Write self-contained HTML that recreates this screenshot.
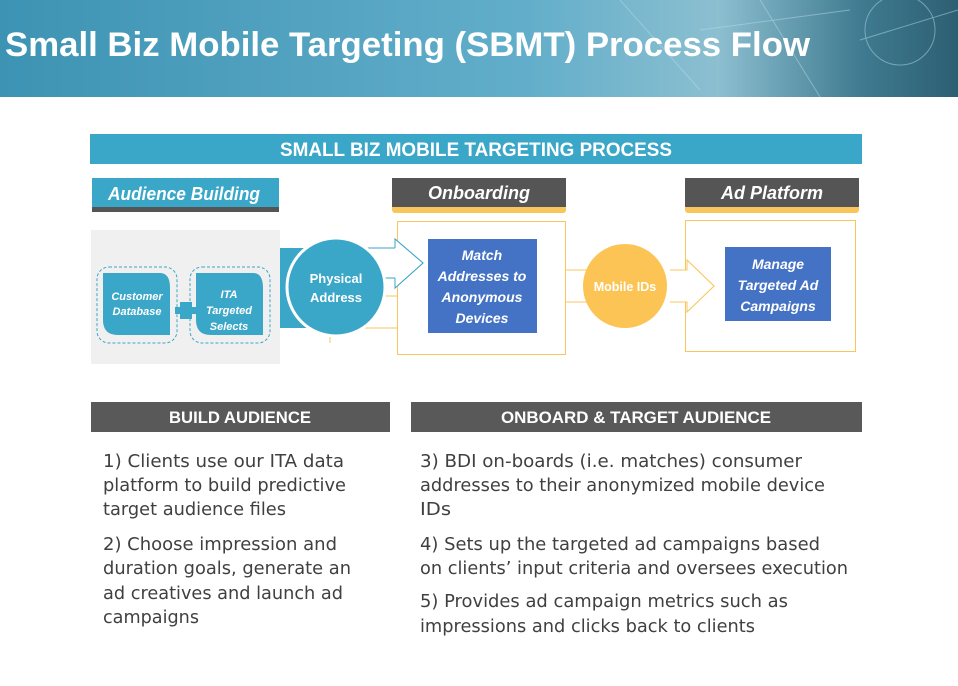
<!DOCTYPE html>
<html><head><meta charset="utf-8"><style>
html,body{margin:0;padding:0;background:#fff;}
svg{display:block;}
text{font-family:"Liberation Sans",sans-serif;}
.b{font-family:"DejaVu Sans","Liberation Sans",sans-serif;font-size:18px;fill:#404040;}
.it{font-weight:bold;font-style:italic;fill:#fff;}
</style></head><body>
<svg width="958" height="686" viewBox="0 0 958 686" xmlns="http://www.w3.org/2000/svg">
<defs>
<linearGradient id="hg" x1="0" x2="1" y1="0" y2="0">
<stop offset="0" stop-color="#3d93b3"/>
<stop offset="0.55" stop-color="#62aeca"/>
<stop offset="0.75" stop-color="#8cbfd0"/>
<stop offset="0.9" stop-color="#3f7a90"/>
<stop offset="1" stop-color="#2d5f72"/>
</linearGradient>
</defs>
<rect x="0" y="0" width="958" height="97" fill="url(#hg)"/>
<g stroke="#b8dbe6" stroke-width="1" opacity="0.5" fill="none">
<line x1="620" y1="0" x2="700" y2="90"/><line x1="700" y1="30" x2="850" y2="10"/>
<line x1="760" y1="0" x2="820" y2="97"/><line x1="860" y1="40" x2="958" y2="10"/>
<circle cx="900" cy="30" r="35"/>
</g>
<text x="5" y="56" font-size="34" font-weight="bold" fill="#fff" textLength="805" lengthAdjust="spacingAndGlyphs">Small Biz Mobile Targeting (SBMT) Process Flow</text>

<rect x="90" y="134" width="772" height="30" fill="#3aa6c8"/>
<text x="476" y="156" font-size="19" font-weight="bold" fill="#fff" text-anchor="middle" textLength="392" lengthAdjust="spacingAndGlyphs">SMALL BIZ MOBILE TARGETING PROCESS</text>

<!-- tabs -->
<rect x="92" y="205" width="187" height="7" fill="#555"/>
<rect x="92" y="178" width="187" height="29" fill="#3aa6c8"/>
<text x="184" y="200" font-size="18" class="it" text-anchor="middle" textLength="152" lengthAdjust="spacingAndGlyphs">Audience Building</text>
<rect x="392" y="205" width="174" height="8" rx="3" fill="#f8c65a"/>
<rect x="392" y="178" width="174" height="29" fill="#555"/>
<text x="479" y="199" font-size="18" class="it" text-anchor="middle" textLength="102" lengthAdjust="spacingAndGlyphs">Onboarding</text>
<rect x="685" y="205" width="174" height="8" rx="3" fill="#f8c65a"/>
<rect x="685" y="178" width="174" height="29" fill="#555"/>
<text x="772" y="199" font-size="18" class="it" text-anchor="middle" textLength="102" lengthAdjust="spacingAndGlyphs">Ad Platform</text>

<!-- gray panel -->
<rect x="91" y="230" width="189" height="134" fill="#f0f0f0"/>
<rect x="97" y="267" width="80" height="76" rx="12" fill="none" stroke="#3aa6c8" stroke-dasharray="3,2"/>
<path d="M103 273 H160 Q170 273 170 288 V335 H118 Q103 335 103 320 Z" fill="#3aa6c8"/>
<rect x="190" y="267" width="80" height="76" rx="12" fill="none" stroke="#3aa6c8" stroke-dasharray="3,2"/>
<path d="M196 273 H253 Q263 273 263 288 V335 H211 Q196 335 196 320 Z" fill="#3aa6c8"/>
<text x="137" y="300" font-size="11" class="it" text-anchor="middle">Customer</text>
<text x="137" y="315" font-size="11" class="it" text-anchor="middle">Database</text>
<text x="229" y="298" font-size="11" class="it" text-anchor="middle">ITA</text>
<text x="229" y="314" font-size="11" class="it" text-anchor="middle">Targeted</text>
<text x="229" y="330" font-size="11" class="it" text-anchor="middle">Selects</text>
<rect x="180" y="302" width="12" height="17" fill="#3aa6c8"/>
<rect x="175" y="307" width="22" height="7" fill="#3aa6c8"/>

<!-- physical address -->
<rect x="280" y="248" width="50" height="80" fill="#3aa6c8"/>
<path d="M330 248 H395 V239 L423 263 L395 288 V278 H330" fill="#fff" stroke="#3aa6c8" stroke-width="1"/>
<g stroke="#f8c65a" stroke-width="1"><line x1="350" y1="296" x2="398" y2="296"/><line x1="350" y1="328" x2="398" y2="328"/><line x1="330" y1="336" x2="330" y2="343"/></g>
<circle cx="336" cy="287" r="49" fill="#3aa6c8" stroke="#fff" stroke-width="3"/>
<text x="336" y="283" font-size="13" font-weight="bold" fill="#fff" text-anchor="middle">Physical</text>
<text x="336" y="302" font-size="13" font-weight="bold" fill="#fff" text-anchor="middle">Address</text>

<!-- onboarding box -->
<rect x="397.5" y="221.5" width="168" height="133" fill="none" stroke="#f8c65a"/>
<path d="M395 248 V239 L423 263 L395 288 V278" fill="#fff" stroke="#3aa6c8"/>
<rect x="428" y="239" width="109" height="94" fill="#4472c4"/>
<text x="482" y="260" font-size="14" class="it" text-anchor="middle">Match</text>
<text x="482" y="281" font-size="14" class="it" text-anchor="middle">Addresses to</text>
<text x="482" y="302" font-size="14" class="it" text-anchor="middle">Anonymous</text>
<text x="482" y="323" font-size="14" class="it" text-anchor="middle">Devices</text>

<!-- mobile IDs -->
<g stroke="#f8c65a"><line x1="566" y1="270" x2="590" y2="270"/><line x1="566" y1="302" x2="590" y2="302"/></g>
<circle cx="625" cy="286" r="42" fill="#fcc454"/>
<text x="625" y="291" font-size="12.5" font-weight="bold" fill="#fff" text-anchor="middle">Mobile IDs</text>
<path d="M670 270 H687 V260 L714 286 L687 312 V302 H670" fill="#fff" stroke="#f8c65a"/>

<!-- ad platform -->
<rect x="685.5" y="220.5" width="170" height="131" fill="none" stroke="#f8c65a"/>
<path d="M685 270 H687 V260 L714 286 L687 312 V302 H685" fill="#fff" stroke="#f8c65a"/>
<rect x="725" y="247" width="106" height="74" fill="#4472c4"/>
<text x="778" y="269" font-size="14" class="it" text-anchor="middle">Manage</text>
<text x="778" y="290" font-size="14" class="it" text-anchor="middle">Targeted Ad</text>
<text x="778" y="311" font-size="14" class="it" text-anchor="middle">Campaigns</text>

<!-- section headers -->
<rect x="91" y="402" width="299" height="30" fill="#595959"/>
<text x="240" y="423" font-size="17" font-weight="bold" fill="#fff" text-anchor="middle" textLength="142" lengthAdjust="spacingAndGlyphs">BUILD AUDIENCE</text>
<rect x="411" y="402" width="451" height="30" fill="#595959"/>
<text x="636" y="423" font-size="17" font-weight="bold" fill="#fff" text-anchor="middle" textLength="270" lengthAdjust="spacingAndGlyphs">ONBOARD &amp; TARGET AUDIENCE</text>

<!-- body text -->
<text class="b" x="103" y="467" textLength="241" lengthAdjust="spacingAndGlyphs">1) Clients use our ITA data</text>
<text class="b" x="103" y="491" textLength="243" lengthAdjust="spacingAndGlyphs">platform to build predictive</text>
<text class="b" x="103" y="515" textLength="183" lengthAdjust="spacingAndGlyphs">target audience files</text>
<text class="b" x="103" y="550" textLength="234" lengthAdjust="spacingAndGlyphs">2) Choose impression and</text>
<text class="b" x="103" y="574" textLength="248" lengthAdjust="spacingAndGlyphs">duration goals, generate an</text>
<text class="b" x="103" y="599" textLength="240" lengthAdjust="spacingAndGlyphs">ad creatives and launch ad</text>
<text class="b" x="103" y="623" textLength="96" lengthAdjust="spacingAndGlyphs">campaigns</text>

<text class="b" x="420" y="467" textLength="382" lengthAdjust="spacingAndGlyphs">3) BDI on-boards (i.e. matches) consumer</text>
<text class="b" x="420" y="491" textLength="405" lengthAdjust="spacingAndGlyphs">addresses to their anonymized mobile device</text>
<text class="b" x="420" y="515" textLength="31" lengthAdjust="spacingAndGlyphs">IDs</text>
<text class="b" x="420" y="550" textLength="400" lengthAdjust="spacingAndGlyphs">4) Sets up the targeted ad campaigns based</text>
<text class="b" x="420" y="574" textLength="428" lengthAdjust="spacingAndGlyphs">on clients’ input criteria and oversees execution</text>
<text class="b" x="420" y="607" textLength="368" lengthAdjust="spacingAndGlyphs">5) Provides ad campaign metrics such as</text>
<text class="b" x="420" y="632" textLength="335" lengthAdjust="spacingAndGlyphs">impressions and clicks back to clients</text>
</svg>
</body></html>
